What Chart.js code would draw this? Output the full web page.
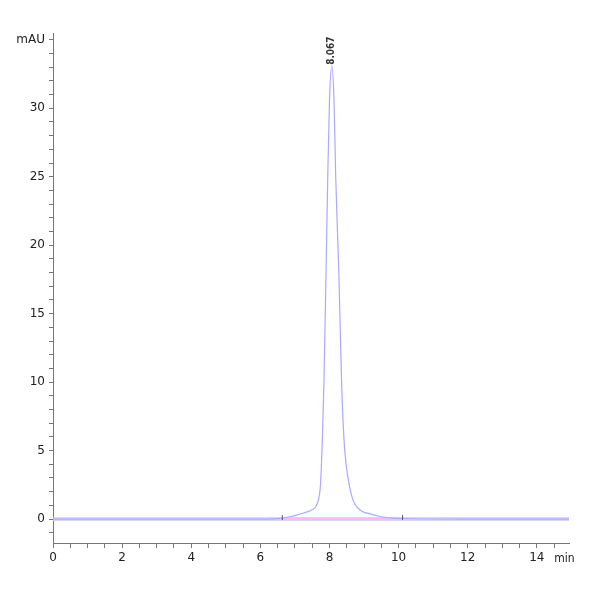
<!DOCTYPE html>
<html>
<head>
<meta charset="utf-8">
<script src="https://cdn.jsdelivr.net/npm/chart.js@4.4.0/dist/chart.umd.min.js"></script>
<style>
html,body{margin:0;padding:0;background:#fff;}
#wrap{width:600px;height:600px;}
</style>
</head>
<body>
<div id="wrap"><canvas id="c" width="600" height="600"></canvas></div>
<script>
// Retention time (min) and signal (mAU)
const times = [0, 2, 4, 6, 6.62, 6.8, 7.0, 7.25, 7.45, 7.6, 7.68, 7.73, 7.76, 7.79, 7.84, 7.9, 7.95, 8.0, 8.067, 8.13, 8.18, 8.27, 8.35, 8.42, 8.48, 8.55, 8.63, 8.73, 8.95, 9.15, 9.4, 9.6, 9.85, 10.1, 12, 14.93];
const signal = [0, 0, 0, 0, 0.05, 0.15, 0.25, 0.44, 0.62, 0.9, 1.4, 2.2, 3.5, 5.5, 10.0, 18.0, 25.0, 30.6, 33.1, 30.6, 25.0, 18.0, 10.0, 5.8, 4.0, 2.8, 1.8, 1.1, 0.55, 0.4, 0.22, 0.13, 0.07, 0.04, 0, 0];
const baselineTimes = [0, 14.93];
const baselineValues = [0, 0];
const integrationTimes = [6.62, 10.1];
const integrationValues = [0.0, 0.0];
const peakLabel = "8.067";
const peakTime = 8.067;
const peakHeight = 33.1;
const xRange = [0, 14.93];
const yRange = [-1.75, 35.5];
const xUnit = "min";
const yUnit = "mAU";

const FONT = '"DejaVu Sans", sans-serif';
const FONT_STYLE = 'condensed';

const pts = (xs, ys) => xs.map((x, i) => ({x: x, y: ys[i]}));

const annot = {
  id: 'annot',
  afterDatasetsDraw(chart) {
    const ctx = chart.ctx;
    const xs = chart.scales.x, ys = chart.scales.y;
    ctx.save();
    ctx.strokeStyle = '#555';
    ctx.lineWidth = 1;
    integrationTimes.forEach((t, i) => {
      const px = xs.getPixelForValue(t), py = ys.getPixelForValue(integrationValues[i]);
      ctx.beginPath();
      ctx.moveTo(px + 0.5, py - 4);
      ctx.lineTo(px + 0.5, py + 1);
      ctx.stroke();
    });
    const px = xs.getPixelForValue(peakTime), py = ys.getPixelForValue(peakHeight);
    ctx.translate(px, py - 1);
    ctx.rotate(-Math.PI / 2);
    ctx.fillStyle = '#333';
    ctx.font = FONT_STYLE + ' bold 10px ' + FONT;
    ctx.textAlign = 'left';
    ctx.textBaseline = 'middle';
    ctx.fillText(peakLabel, 0, 0);
    ctx.restore();
    ctx.save();
    ctx.fillStyle = '#222';
    ctx.font = FONT_STYLE + ' 12px ' + FONT;
    ctx.textAlign = 'center';
    ctx.textBaseline = 'middle';
    ctx.fillText(xUnit, xs.getPixelForValue(14.8), xs.top + 16);
    ctx.restore();
  }
};

new Chart(document.getElementById('c'), {
  type: 'scatter',
  data: {
    datasets: [
      {
        data: pts(times, signal),
        showLine: true,
        borderColor: '#a9a9ff',
        borderWidth: 1.2,
        pointRadius: 0,
        cubicInterpolationMode: 'monotone',
        order: 0
      },
      {
        data: pts(integrationTimes, integrationValues),
        showLine: true,
        borderColor: '#ffb8f4',
        borderWidth: 2,
        pointRadius: 0,
        order: 1
      },
      {
        data: pts(baselineTimes, baselineValues),
        showLine: true,
        borderColor: 'rgba(200,200,255,0.75)',
        borderWidth: 4,
        pointRadius: 0,
        order: 2
      }
    ]
  },
  plugins: [annot],
  options: {
    responsive: false,
    animation: false,
    events: [],
    layout: {padding: {left: 0, right: 31, top: 33, bottom: 22}},
    plugins: {legend: {display: false}, tooltip: {enabled: false}},
    scales: {
      x: {
        type: 'linear',
        min: xRange[0],
        max: xRange[1],
        afterFit(s) { s.height = 35; },
        border: {display: true, color: '#777', width: 1},
        grid: {drawOnChartArea: false, drawTicks: true, tickLength: 5, color: '#777'},
        ticks: {
          stepSize: 0.5,
          includeBounds: false,
          autoSkip: false,
          maxRotation: 0,
          padding: 3,
          color: '#222',
          font: {family: FONT, size: 12, style: FONT_STYLE},
          callback: v => (Math.abs(v % 2) < 1e-9 ? String(v) : '')
        }
      },
      y: {
        type: 'linear',
        min: yRange[0],
        max: yRange[1],
        afterFit(s) { s.width = 53; },
        border: {display: true, color: '#777', width: 1},
        grid: {drawOnChartArea: false, drawTicks: true, tickLength: 4, color: '#777'},
        ticks: {
          stepSize: 1,
          includeBounds: false,
          autoSkip: false,
          padding: 4,
          color: '#222',
          font: {family: FONT, size: 12, style: FONT_STYLE},
          callback: v => (v === 35 ? yUnit : (v % 5 === 0 ? String(v) : ''))
        }
      }
    }
  }
});
</script>
</body>
</html>
